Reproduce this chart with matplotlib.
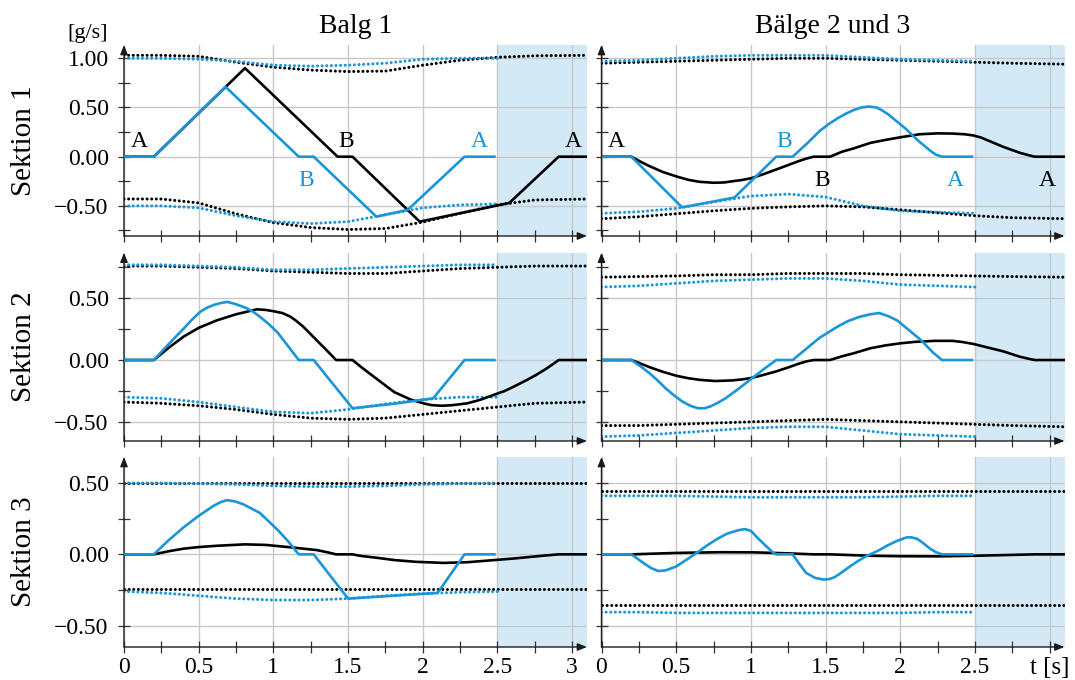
import matplotlib
matplotlib.use("Agg")
import matplotlib.pyplot as plt
from matplotlib.ticker import FixedLocator, MultipleLocator

plt.rcParams['font.family'] = ['Liberation Serif', 'DejaVu Serif']
plt.rcParams['axes.unicode_minus'] = True

# ---------------------------------------------------------------- data
# time grid on which the dotted limit curves are given
T_BOUND = [0, 0.25, 0.5, 0.75, 1.0, 1.25, 1.5, 1.75, 2.0, 2.25, 2.5, 2.75, 3.1]
T_BOUND_BLUE = [0, 0.25, 0.5, 0.75, 1.0, 1.25, 1.5, 1.75, 2.0, 2.25, 2.5]

# Balg 1, Sektion 1
t_b1_s1_black = [0, 0.2, 0.81, 1.43, 1.53, 1.98, 2.25, 2.58, 2.91, 3.1]
v_b1_s1_black = [0, 0, 0.90, 0, 0, -0.66, -0.575, -0.47, 0, 0]
t_b1_s1_blue = [0, 0.2, 0.68, 1.17, 1.27, 1.69, 1.90, 2.28, 2.48]
v_b1_s1_blue = [0, 0, 0.71, 0, 0, -0.61, -0.54, 0, 0]
b1_s1_black_hi = [1.03, 1.03, 1.02, 0.96, 0.91, 0.88, 0.865, 0.87, 0.93, 0.98, 1.01, 1.025, 1.03]
b1_s1_black_lo = [-0.43, -0.43, -0.47, -0.58, -0.67, -0.72, -0.74, -0.73, -0.665, -0.575, -0.49, -0.44, -0.43]
b1_s1_blue_hi = [1.0, 1.0, 0.99, 0.97, 0.93, 0.92, 0.93, 0.95, 0.99, 1.0, 1.0]
b1_s1_blue_lo = [-0.50, -0.50, -0.52, -0.60, -0.66, -0.68, -0.66, -0.59, -0.52, -0.49, -0.48]

# Bälge 2 und 3, Sektion 1
t_b23_s1_black = [0, 0.2, 0.26, 0.32, 0.41, 0.5, 0.58, 0.655, 0.75, 0.82, 0.876, 0.94, 1.0, 1.08,
                  1.17, 1.25, 1.32, 1.37, 1.42, 1.53, 1.61, 1.69, 1.8, 1.9, 2.0, 2.13, 2.25, 2.35,
                  2.43, 2.49, 2.54, 2.58, 2.69, 2.8, 2.86, 2.9, 3.1]
v_b23_s1_black = [0, 0, -0.05, -0.095, -0.155, -0.20, -0.235, -0.255, -0.265, -0.262, -0.25, -0.237,
                  -0.22, -0.18, -0.13, -0.085, -0.045, -0.02, 0, 0, 0.05, 0.085, 0.14, 0.17, 0.197,
                  0.228, 0.237, 0.235, 0.228, 0.216, 0.195, 0.17, 0.10, 0.04, 0.015, 0, 0]
t_b23_s1_blue = [0, 0.2, 0.54, 0.7, 0.89, 1.17, 1.28, 1.38, 1.46, 1.52, 1.58, 1.64, 1.69, 1.74,
                 1.79, 1.84, 1.88, 1.92, 1.96, 2.00, 2.04, 2.08, 2.13, 2.17, 2.21, 2.24, 2.28, 2.48]
v_b23_s1_blue = [0, 0, -0.515, -0.47, -0.415, 0, 0, 0.14, 0.26, 0.33, 0.39, 0.44, 0.475, 0.50,
                 0.51, 0.50, 0.47, 0.43, 0.38, 0.33, 0.28, 0.22, 0.15, 0.10, 0.05, 0.02, 0, 0]
b23_s1_black_hi = [0.95, 0.96, 0.97, 0.98, 0.99, 1.0, 1.0, 0.99, 0.98, 0.97, 0.96, 0.95, 0.94]
b23_s1_black_lo = [-0.63, -0.61, -0.58, -0.55, -0.525, -0.51, -0.50, -0.51, -0.54, -0.57, -0.60, -0.62, -0.63]
b23_s1_blue_hi = [0.97, 0.98, 1.0, 1.02, 1.03, 1.03, 1.03, 1.01, 0.99, 0.98, 0.97]
b23_s1_blue_lo = [-0.575, -0.56, -0.525, -0.46, -0.40, -0.38, -0.41, -0.50, -0.55, -0.565, -0.575]

# Balg 1, Sektion 2
t_b1_s2_black = [0, 0.2, 0.25, 0.3, 0.4, 0.5, 0.62, 0.75, 0.89, 0.95, 1.0, 1.06, 1.115, 1.155, 1.2,
                 1.245, 1.29, 1.36, 1.42, 1.53, 1.585, 1.70, 1.81, 1.92, 1.975, 2.02, 2.06, 2.13,
                 2.2, 2.30, 2.39, 2.48, 2.55, 2.61, 2.70, 2.76, 2.82, 2.87, 2.91, 3.1]
v_b1_s2_black = [0, 0, 0.05, 0.10, 0.19, 0.26, 0.32, 0.37, 0.41, 0.405, 0.395, 0.38, 0.35, 0.315,
                 0.27, 0.215, 0.16, 0.075, 0, 0, -0.054, -0.16, -0.26, -0.32, -0.34, -0.355,
                 -0.365, -0.37, -0.365, -0.35, -0.32, -0.28, -0.25, -0.215, -0.16, -0.12, -0.076,
                 -0.035, 0, 0]
t_b1_s2_blue = [0, 0.2, 0.3, 0.4, 0.45, 0.51, 0.55, 0.60, 0.645, 0.69, 0.74, 0.82, 0.865, 0.91,
                0.97, 1.03, 1.1, 1.17, 1.27, 1.53, 1.80, 2.07, 2.28, 2.48]
v_b1_s2_blue = [0, 0, 0.13, 0.255, 0.32, 0.39, 0.42, 0.445, 0.46, 0.47, 0.455, 0.42, 0.39, 0.35,
                0.29, 0.22, 0.11, 0, 0, -0.39, -0.355, -0.31, 0, 0]
b1_s2_black_hi = [0.76, 0.76, 0.75, 0.74, 0.72, 0.71, 0.70, 0.70, 0.72, 0.74, 0.75, 0.76, 0.76]
b1_s2_black_lo = [-0.34, -0.35, -0.37, -0.40, -0.44, -0.47, -0.48, -0.47, -0.44, -0.41, -0.38, -0.35, -0.34]
b1_s2_blue_hi = [0.77, 0.77, 0.76, 0.75, 0.73, 0.73, 0.74, 0.75, 0.76, 0.77, 0.77]
b1_s2_blue_lo = [-0.30, -0.31, -0.34, -0.38, -0.42, -0.43, -0.40, -0.355, -0.32, -0.30, -0.30]

# Bälge 2 und 3, Sektion 2
t_b23_s2_black = [0, 0.2, 0.26, 0.32, 0.41, 0.5, 0.58, 0.655, 0.76, 0.875, 0.94, 1.0, 1.08, 1.17,
                  1.25, 1.32, 1.37, 1.42, 1.53, 1.61, 1.69, 1.8, 1.9, 2.0, 2.1, 2.23, 2.35, 2.42,
                  2.49, 2.59, 2.69, 2.8, 2.86, 2.9, 3.1]
v_b23_s2_black = [0, 0, -0.028, -0.057, -0.095, -0.127, -0.147, -0.16, -0.17, -0.165, -0.157,
                  -0.146, -0.122, -0.092, -0.06, -0.03, -0.012, 0, 0, 0.03, 0.055, 0.095, 0.118,
                  0.135, 0.147, 0.155, 0.155, 0.145, 0.13, 0.10, 0.07, 0.027, 0.01, 0, 0]
t_b23_s2_blue = [0, 0.2, 0.26, 0.32, 0.38, 0.43, 0.49, 0.54, 0.595, 0.645, 0.69, 0.73, 0.78, 0.83,
                 0.915, 1.0, 1.085, 1.17, 1.28, 1.46, 1.52, 1.58, 1.65, 1.73, 1.80, 1.86, 1.92,
                 1.98, 2.06, 2.14, 2.18, 2.22, 2.25, 2.28, 2.48]
v_b23_s2_blue = [0, 0, -0.05, -0.105, -0.17, -0.23, -0.29, -0.335, -0.37, -0.39, -0.39, -0.375,
                 -0.345, -0.31, -0.235, -0.155, -0.075, 0, 0, 0.18, 0.225, 0.27, 0.315, 0.35,
                 0.37, 0.38, 0.355, 0.32, 0.24, 0.16, 0.11, 0.06, 0.03, 0, 0]
b23_s2_black_hi = [0.67, 0.675, 0.68, 0.69, 0.69, 0.70, 0.70, 0.70, 0.69, 0.685, 0.68, 0.675, 0.67]
b23_s2_black_lo = [-0.53, -0.53, -0.52, -0.51, -0.50, -0.49, -0.48, -0.49, -0.50, -0.51, -0.52, -0.53, -0.54]
b23_s2_blue_hi = [0.59, 0.60, 0.62, 0.64, 0.65, 0.66, 0.66, 0.64, 0.61, 0.60, 0.59]
b23_s2_blue_lo = [-0.62, -0.61, -0.59, -0.57, -0.55, -0.54, -0.54, -0.57, -0.60, -0.61, -0.62]

# Balg 1, Sektion 3
t_b1_s3_black = [0, 0.2, 0.3, 0.4, 0.5, 0.62, 0.81, 0.95, 1.11, 1.2, 1.29, 1.36, 1.42, 1.53, 1.58,
                 1.7, 1.81, 1.95, 2.14, 2.3, 2.48, 2.6, 2.7, 2.8, 2.91, 3.1]
v_b1_s3_black = [0, 0, 0.022, 0.04, 0.051, 0.06, 0.07, 0.066, 0.05, 0.04, 0.03, 0.015, 0, 0,
                 -0.01, -0.025, -0.04, -0.052, -0.06, -0.055, -0.04, -0.03, -0.02, -0.01, 0, 0]
t_b1_s3_blue = [0, 0.2, 0.3, 0.4, 0.5, 0.55, 0.6, 0.645, 0.69, 0.745, 0.8, 0.855, 0.91, 0.97, 1.03,
                1.1, 1.17, 1.27, 1.5, 1.8, 2.1, 2.28, 2.48]
v_b1_s3_blue = [0, 0, 0.10, 0.19, 0.27, 0.305, 0.34, 0.365, 0.38, 0.37, 0.35, 0.32, 0.29, 0.23,
                0.17, 0.09, 0, 0, -0.31, -0.29, -0.27, 0, 0]
b1_s3_black_hi = [0.50, 0.50, 0.50, 0.50, 0.50, 0.50, 0.50, 0.50, 0.50, 0.50, 0.50, 0.50, 0.50]
b1_s3_black_lo = [-0.24, -0.24, -0.24, -0.24, -0.24, -0.24, -0.24, -0.24, -0.24, -0.24, -0.24, -0.24, -0.24]
b1_s3_blue_hi = [0.50, 0.50, 0.495, 0.49, 0.48, 0.475, 0.475, 0.48, 0.49, 0.495, 0.50]
b1_s3_blue_lo = [-0.26, -0.27, -0.29, -0.31, -0.32, -0.32, -0.31, -0.29, -0.275, -0.265, -0.26]

# Bälge 2 und 3, Sektion 3
t_b23_s3_black = [0, 0.2, 0.5, 0.8, 1.02, 1.25, 1.42, 1.53, 1.8, 2.0, 2.25, 2.49, 2.7, 2.9, 3.1]
v_b23_s3_black = [0, 0, 0.01, 0.015, 0.014, 0.007, 0, 0, -0.01, -0.013, -0.014, -0.01, -0.005, 0, 0]
t_b23_s3_blue = [0, 0.2, 0.24, 0.28, 0.33, 0.38, 0.43, 0.5, 0.58, 0.655, 0.71, 0.77, 0.84, 0.92,
                 0.96, 1.0, 1.055, 1.09, 1.12, 1.145, 1.17, 1.28, 1.32, 1.37, 1.43, 1.49, 1.53,
                 1.56, 1.59, 1.63, 1.67, 1.72, 1.76, 1.80, 1.86, 1.92, 1.98, 2.04, 2.07, 2.11,
                 2.14, 2.17, 2.2, 2.24, 2.28, 2.48]
v_b23_s3_blue = [0, 0, -0.03, -0.06, -0.095, -0.117, -0.112, -0.085, -0.03, 0.023, 0.065, 0.105,
                 0.145, 0.17, 0.177, 0.165, 0.105, 0.07, 0.04, 0.015, 0, 0, -0.06, -0.13, -0.165,
                 -0.177, -0.172, -0.16, -0.14, -0.11, -0.08, -0.045, -0.02, 0.0, 0.03, 0.065,
                 0.095, 0.118, 0.12, 0.11, 0.09, 0.065, 0.04, 0.015, 0, 0]
b23_s3_black_hi = [0.445, 0.445, 0.445, 0.445, 0.445, 0.445, 0.445, 0.445, 0.445, 0.445, 0.445, 0.445, 0.445]
b23_s3_black_lo = [-0.355, -0.355, -0.355, -0.355, -0.355, -0.355, -0.355, -0.355, -0.355, -0.355, -0.355, -0.355, -0.355]
b23_s3_blue_hi = [0.41, 0.41, 0.41, 0.405, 0.40, 0.40, 0.40, 0.40, 0.405, 0.41, 0.41]
b23_s3_blue_lo = [-0.405, -0.405, -0.41, -0.41, -0.41, -0.41, -0.41, -0.41, -0.41, -0.405, -0.405]

column_titles = ['Balg 1', 'Bälge 2 und 3']
row_titles = ['Sektion 1', 'Sektion 2', 'Sektion 3']
x_ticks = [0, 0.5, 1.0, 1.5, 2.0, 2.5, 3.0]
x_labels_left = ['0', '0.5', '1', '1.5', '2', '2.5', '3']
x_labels_right = ['0', '0.5', '1', '1.5', '2', '2.5', 't [s]']
y_ticks = [[-0.5, 0.0, 0.5, 1.0], [-0.5, 0.0, 0.5], [-0.5, 0.0, 0.5]]
y_labels = [['\u22120.50', '0.00', '0.50', '1.00'],
            ['\u22120.50', '0.00', '0.50'],
            ['\u22120.50', '0.00', '0.50']]

panels = {
    (0, 0): (t_b1_s1_black, v_b1_s1_black, t_b1_s1_blue, v_b1_s1_blue,
             b1_s1_black_hi, b1_s1_black_lo, b1_s1_blue_hi, b1_s1_blue_lo),
    (0, 1): (t_b23_s1_black, v_b23_s1_black, t_b23_s1_blue, v_b23_s1_blue,
             b23_s1_black_hi, b23_s1_black_lo, b23_s1_blue_hi, b23_s1_blue_lo),
    (1, 0): (t_b1_s2_black, v_b1_s2_black, t_b1_s2_blue, v_b1_s2_blue,
             b1_s2_black_hi, b1_s2_black_lo, b1_s2_blue_hi, b1_s2_blue_lo),
    (1, 1): (t_b23_s2_black, v_b23_s2_black, t_b23_s2_blue, v_b23_s2_blue,
             b23_s2_black_hi, b23_s2_black_lo, b23_s2_blue_hi, b23_s2_blue_lo),
    (2, 0): (t_b1_s3_black, v_b1_s3_black, t_b1_s3_blue, v_b1_s3_blue,
             b1_s3_black_hi, b1_s3_black_lo, b1_s3_blue_hi, b1_s3_blue_lo),
    (2, 1): (t_b23_s3_black, v_b23_s3_black, t_b23_s3_blue, v_b23_s3_blue,
             b23_s3_black_hi, b23_s3_black_lo, b23_s3_blue_hi, b23_s3_blue_lo),
}

# ---------------------------------------------------------------- style / layout
BLUE = '#1896d8'
BLACK = '#000000'
SHADE = '#d3e9f6'
GRID = '#c8c8c8'
AXIS = '#1a1a1a'

W, H = 1075, 680
COL_X = [124, 601.5]
COL_W = 463
ROW_TOP = [45, 252.7, 457]
ROW_BOT = [236, 441, 647]
ROW_YLIM = [(-0.806, 1.135), (-0.655, 0.868), (-0.649, 0.682)]
XLIM = (0, 3.1)

# letter markers in the first row: (text, t, value, colour, column)
letters = [
    ('A', 0.10, 0.10, BLACK, 0), ('B', 1.49, 0.10, BLACK, 0), ('B', 1.22, -0.30, BLUE, 0),
    ('A', 2.38, 0.10, BLUE, 0), ('A', 3.01, 0.10, BLACK, 0),
    ('A', 0.10, 0.10, BLACK, 1), ('B', 1.22, 0.10, BLUE, 1), ('B', 1.48, -0.295, BLACK, 1),
    ('A', 2.37, -0.295, BLUE, 1), ('A', 2.985, -0.295, BLACK, 1),
]

fig = plt.figure(figsize=(W / 100, H / 100), dpi=100)

dot = dict(lw=2.2, linestyle=(0, (0.01, 1.5)), dash_capstyle='round')
arrow = dict(arrowstyle='-|>,head_length=0.4,head_width=0.16', lw=1.0, color=AXIS,
             shrinkA=0, shrinkB=0, mutation_scale=14)

for r in range(3):
    for c in range(2):
        ax = fig.add_axes([COL_X[c] / W, 1 - ROW_BOT[r] / H, COL_W / W,
                           (ROW_BOT[r] - ROW_TOP[r]) / H])
        ax.set_xlim(*XLIM)
        ax.set_ylim(*ROW_YLIM[r])
        for s in ax.spines.values():
            s.set_visible(False)
        ax.set_axisbelow(True)
        ax.axvspan(2.5, 3.1, color=SHADE, lw=0, zorder=0.1)
        ax.grid(True, which='major', color=GRID, lw=1.0)

        ax.xaxis.set_major_locator(FixedLocator(x_ticks))
        ax.xaxis.set_minor_locator(MultipleLocator(0.25))
        ax.yaxis.set_major_locator(FixedLocator(y_ticks[r]))
        ax.yaxis.set_minor_locator(MultipleLocator(0.25))
        ax.tick_params(which='both', direction='inout', length=8, width=0.9,
                       color='#333333', labelsize=17, pad=3)
        ax.tick_params(axis='y', pad=7)

        if c == 0:
            ax.set_yticklabels(y_labels[r])
        else:
            ax.tick_params(axis='y', labelleft=False)
        if r == 2:
            ax.set_xticklabels(x_labels_left if c == 0 else x_labels_right)
            if c == 1:
                ax.get_xticklabels()[-1].set_fontsize(18)
        else:
            ax.tick_params(axis='x', labelbottom=False)

        ax.annotate('', xy=(0, 1), xytext=(0, 0), xycoords='axes fraction',
                    arrowprops=arrow, annotation_clip=False)
        ax.annotate('', xy=(1, 0), xytext=(0, 0), xycoords='axes fraction',
                    arrowprops=arrow, annotation_clip=False)

        (tk, vk, tb, vb, khi, klo, bhi, blo) = panels[(r, c)]
        ax.plot(T_BOUND, khi, color=BLACK, zorder=2, **dot)
        ax.plot(T_BOUND, klo, color=BLACK, zorder=2, **dot)
        ax.plot(T_BOUND_BLUE, bhi, color=BLUE, zorder=2.1, **dot)
        ax.plot(T_BOUND_BLUE, blo, color=BLUE, zorder=2.1, **dot)
        ax.plot(tk, vk, color=BLACK, lw=1.9, zorder=3, solid_joinstyle='round')
        ax.plot(tb, vb, color=BLUE, lw=1.9, zorder=4, solid_joinstyle='round')

        if r == 0:
            for txt, tx, ty, col, cc in letters:
                if cc == c:
                    ax.text(tx, ty, txt, color=col, fontsize=17, ha='center',
                            va='baseline', zorder=5)

# column and row titles
fig.text((COL_X[0] + COL_W / 2) / W, 1 - 33 / H, column_titles[0], fontsize=20,
         ha='center', va='baseline')
fig.text((COL_X[1] + COL_W / 2) / W, 1 - 33 / H, column_titles[1], fontsize=20,
         ha='center', va='baseline')
for r in range(3):
    fig.text(24 / W, 1 - (ROW_TOP[r] + ROW_BOT[r]) / 2 / H, row_titles[r], fontsize=21,
             rotation=90, ha='center', va='center')
fig.text(88 / W, 1 - 38 / H, '[g/s]', fontsize=16, ha='center', va='baseline')

fig.savefig('out.png', dpi=100)
